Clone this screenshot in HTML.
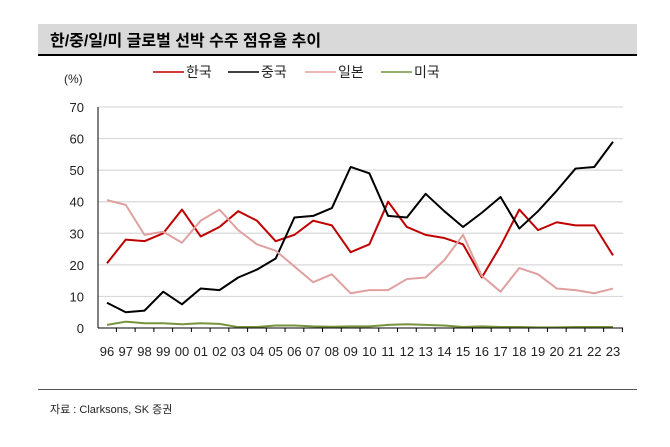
<!DOCTYPE html>
<html><head><meta charset="utf-8"><style>
body{margin:0;background:#fff;width:670px;height:442px;overflow:hidden;font-family:"Liberation Sans","Noto Sans CJK KR",sans-serif}
</style></head><body>
<svg width="670" height="442" xmlns="http://www.w3.org/2000/svg" font-family="Liberation Sans, Noto Sans CJK KR, sans-serif">
<rect x="38" y="24" width="599" height="31" fill="#d9d9d9"/>
<rect x="38" y="54" width="599" height="2" fill="#000"/>
<text x="50" y="46" font-size="16" font-weight="bold" fill="#000">한/중/일/미 글로벌 선박 수주 점유율 추이</text>
<text x="64" y="83" font-size="12" fill="#222">(%)</text>
<g id="legend"></g>
<g id="grid"></g><g id="lines"></g><g id="axes"></g>
<rect x="38" y="389" width="599" height="1" fill="#555"/>
<text x="50" y="413" font-size="11" fill="#222">자료 : Clarksons, SK 증권</text>
</svg>
<script>
const years=["96","97","98","99","00","01","02","03","04","05","06","07","08","09","10","11","12","13","14","15","16","17","18","19","20","21","22","23"];
const korea=[20.5,28,27.5,30,37.5,29,32,37,34,27.5,29.5,34,32.5,24,26.5,40,32,29.5,28.5,26.5,16,26,37.5,31,33.5,32.5,32.5,23];
const china=[8,5,5.5,11.5,7.5,12.5,12,16,18.5,22,35,35.5,38,51,49,35.5,35,42.5,37,32,36.5,41.5,31.5,37,43.5,50.5,51,59];
const japan=[40.5,39,29.5,30.5,27,34,37.5,31,26.5,24.5,19.5,14.5,17,11,12,12,15.5,16,21.5,29.5,16.5,11.5,19,17,12.5,12,11,12.5];
const usa=[1,2,1.5,1.5,1.2,1.5,1.3,0.3,0.3,0.8,0.8,0.5,0.4,0.5,0.5,1,1.2,1,0.8,0.3,0.5,0.3,0.3,0.2,0.2,0.3,0.3,0.3];
const yTicks=[0,10,20,30,40,50,60,70];
const series=[["한국",korea,"#c00000"],["중국",china,"#000000"],["일본",japan,"#e0a0a0"],["미국",usa,"#77933c"]];
const NS="http://www.w3.org/2000/svg";
const x0=98,x1=623,y0=328,yTop=107;
const xs=i=>107+i*(613-107)/(years.length-1);
const ys=v=>y0-(v/70)*(y0-yTop);
function mk(t,a,p){const e=document.createElementNS(NS,t);for(const k in a)e.setAttribute(k,a[k]);p.appendChild(e);return e;}
const grid=document.getElementById('grid'),lines=document.getElementById('lines'),axes=document.getElementById('axes'),legend=document.getElementById('legend');
yTicks.forEach(v=>{
 if(v>0){const g=mk('line',{x1:x0,x2:x1,y1:ys(v),y2:ys(v),stroke:'#d9d9d9','stroke-width':1.2},grid);
 
 }
 const t=mk('text',{x:84,y:ys(v)+5,'font-size':13,'text-anchor':'end',fill:'#222'},axes);t.textContent=v;
 
 
});
const ax=mk('line',{x1:x0,x2:x1,y1:y0,y2:y0,stroke:'#000','stroke-width':1},axes);


const ay=mk('line',{x1:x0,x2:x0,y1:yTop,y2:y0,stroke:'#000','stroke-width':1},axes);


years.forEach((y,i)=>{
 const c=xs(i);
 mk('line',{x1:c+9.4,x2:c+9.4,y1:y0,y2:y0+4,stroke:'#000'},axes);
 const t=mk('text',{x:c,y:356,'font-size':13,'text-anchor':'middle',fill:'#222'},axes);t.textContent=y;
 
 
});
series.forEach(([n,d,c],k)=>{
 const p=mk('polyline',{points:d.map((v,i)=>xs(i)+','+ys(v)).join(' '),fill:'none',stroke:c,'stroke-width':2,'stroke-linejoin':'round'},lines);
 
 
 const lx=[153,228,305,381][k];
 const l=mk('line',{x1:lx,x2:lx+31,y1:72,y2:72,stroke:c,'stroke-width':1.5},legend);
 
 
 const t=mk('text',{x:lx+33,y:77,'font-size':14,fill:'#222'},legend);t.textContent=n;
 
 
});
</script>
</body></html>
